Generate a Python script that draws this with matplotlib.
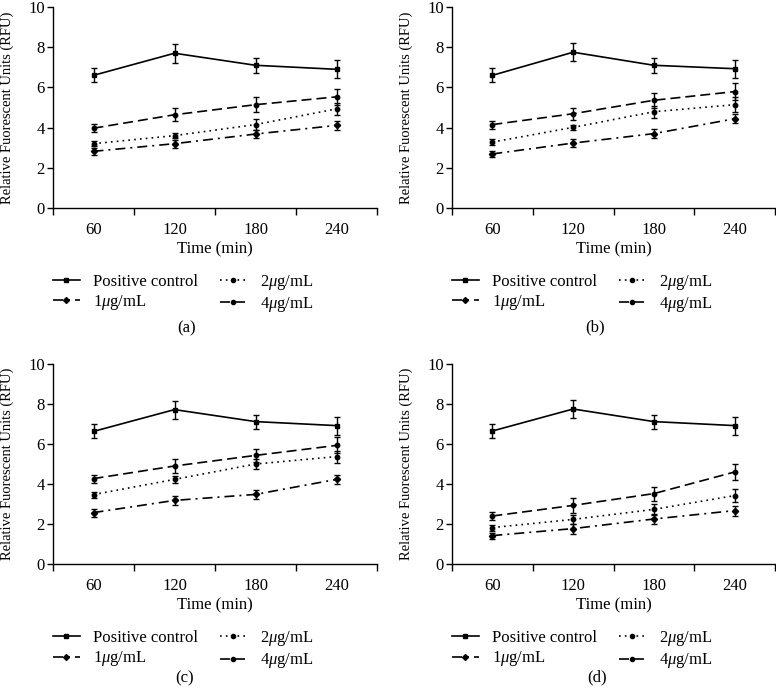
import matplotlib
matplotlib.use("Agg")
import matplotlib.pyplot as plt
from matplotlib.lines import Line2D
from matplotlib.ticker import FixedLocator, NullFormatter, FixedFormatter

plt.rcParams['font.family'] = ['Liberation Serif', 'DejaVu Serif']
plt.rcParams['mathtext.fontset'] = 'custom'
plt.rcParams['mathtext.it'] = 'Liberation Serif:italic'
plt.rcParams['mathtext.rm'] = 'Liberation Serif'

# time points
times = [60, 120, 180, 240]
panel_tags = ["(a)", "(b)", "(c)", "(d)"]

# means per panel (a, b, c, d)
ctrl_mean = [[6.6, 7.7, 7.1, 6.9], [6.6, 7.75, 7.1, 6.93],
             [6.63, 7.72, 7.12, 6.92], [6.65, 7.75, 7.12, 6.92]]
ctrl_err = [[0.35, 0.47, 0.38, 0.45], [0.35, 0.46, 0.36, 0.45],
            [0.35, 0.45, 0.35, 0.45], [0.35, 0.45, 0.35, 0.45]]

c1_mean = [[2.82, 3.2, 3.68, 4.11], [2.69, 3.23, 3.7, 4.44],
           [2.57, 3.18, 3.48, 4.23], [1.42, 1.77, 2.25, 2.67]]
c1_err = [[0.16, 0.2, 0.2, 0.23], [0.16, 0.2, 0.22, 0.23],
          [0.2, 0.22, 0.23, 0.22], [0.15, 0.25, 0.25, 0.25]]

c2_mean = [[3.2, 3.6, 4.15, 4.93], [3.28, 4.01, 4.79, 5.14],
           [3.47, 4.23, 5.0, 5.37], [1.82, 2.23, 2.73, 3.42]]
c2_err = [[0.12, 0.13, 0.28, 0.3], [0.13, 0.12, 0.3, 0.36],
          [0.15, 0.17, 0.25, 0.3], [0.15, 0.22, 0.27, 0.31]]

c4_mean = [[3.97, 4.64, 5.14, 5.53], [4.15, 4.69, 5.36, 5.79],
           [4.27, 4.9, 5.43, 5.93], [2.4, 2.93, 3.52, 4.6]]
c4_err = [[0.2, 0.33, 0.36, 0.4], [0.2, 0.3, 0.36, 0.43],
          [0.2, 0.35, 0.34, 0.4], [0.18, 0.36, 0.35, 0.4]]

labels = ["Positive control", "1$\\mu$g/mL", "2$\\mu$g/mL", "4$\\mu$g/mL"]
styles = ['-', (0, (6, 3, 1.2, 3)), (0, (1, 2.5)), (0, (6, 3))]
markers = ['s', 'D', 'o', 'o']

W, H = 776, 695
fig = plt.figure(figsize=(W / 100, H / 100), dpi=100)

# axes boxes in pixels: left, top, right, bottom
boxes = [(53, 7, 377, 208), (452, 7, 775, 208),
         (53, 364, 377, 564), (452, 364, 775, 564)]
tag_pos = [(187, 328), (595, 327), (185, 678), (597, 677)]

for i, (l, t, r, b) in enumerate(boxes):
    ax = fig.add_axes([l / W, 1 - b / H, (r - l) / W, (b - t) / H])
    series = [(ctrl_mean[i], ctrl_err[i]), (c1_mean[i], c1_err[i]),
              (c2_mean[i], c2_err[i]), (c4_mean[i], c4_err[i])]
    handles = []
    for (m, e), lab, ls, mk in zip(series, labels, styles, markers):
        ax.errorbar(times, m, yerr=e, color='black', linestyle=ls, linewidth=1.2,
                    marker=mk, markersize=3.2, capsize=2.5, elinewidth=1.0,
                    capthick=1.0)
        handles.append(Line2D([], [], color='black', linestyle=ls, linewidth=1.2,
                              marker=mk, markersize=3.0, label=lab))

    ax.set_xlim(30, 270)
    ax.set_ylim(0, 10)
    ax.set_yticks([0, 2, 4, 6, 8, 10])
    ax.xaxis.set_major_locator(FixedLocator([30, 90, 150, 210, 270]))
    ax.xaxis.set_major_formatter(NullFormatter())
    ax.xaxis.set_minor_locator(FixedLocator(times))
    ax.xaxis.set_minor_formatter(FixedFormatter([str(v) for v in times]))
    ax.tick_params(axis='x', which='major', length=5, width=1)
    ax.tick_params(axis='x', which='minor', length=0, labelsize=12, pad=10)
    ax.tick_params(axis='y', length=4, width=1, labelsize=12, pad=2)
    for s in ['top', 'right']:
        ax.spines[s].set_visible(False)
    ax.spines['left'].set_linewidth(1)
    ax.spines['bottom'].set_linewidth(1)

    ax.set_xlabel("Time (min)", fontsize=12)
    ax.xaxis.set_label_coords(0.5, -0.165)
    ax.set_ylabel("Relative Fuorescent Units (RFU)", fontsize=10.5)
    ax.yaxis.set_label_coords(-0.12, 0.5)

    ax.legend(handles=handles, loc='upper left',
              bbox_to_anchor=(l / W, 1 - (b + 65) / H),
              bbox_transform=fig.transFigure, ncol=2, frameon=False,
              fontsize=12, borderpad=0, borderaxespad=0, handlelength=1.6,
              handletextpad=0.8, columnspacing=1.3, labelspacing=0.2)

    tx, ty = tag_pos[i]
    fig.text(tx / W, 1 - ty / H, panel_tags[i], ha='center', va='center', fontsize=12)

fig.savefig("out.png", dpi=100)
